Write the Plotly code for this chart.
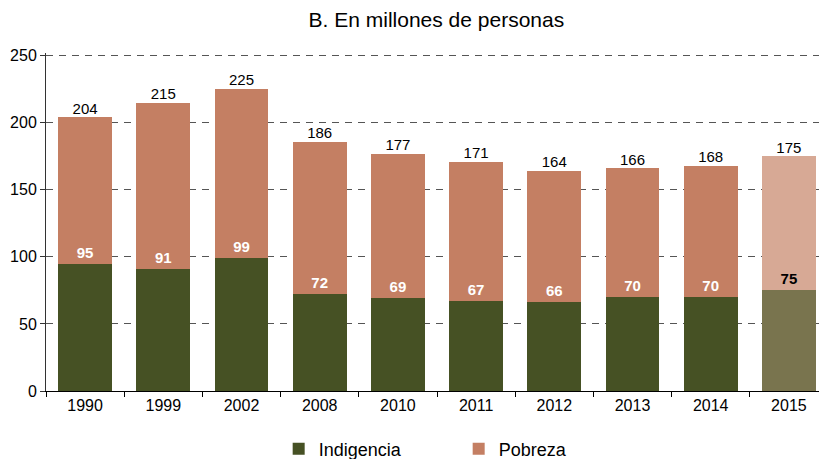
import plotly.graph_objects as go

years = ["1990", "1999", "2002", "2008", "2010", "2011", "2012", "2013", "2014", "2015"]
pobreza_total = [204, 215, 225, 186, 177, 171, 164, 166, 168, 175]
indigencia = [95, 91, 99, 72, 69, 67, 66, 70, 70, 75]

pob_only = [t - i for t, i in zip(pobreza_total, indigencia)]

ind_colors = ["#465124"] * 9 + ["#79744E"]
pob_colors = ["#C47F63"] * 9 + ["#D7A995"]
ind_label_colors = ["white"] * 9 + ["black"]

FONT = "Liberation Sans, Arial, sans-serif"
YMAX = 252

fig = go.Figure()
fig.add_trace(go.Bar(
    x=years, y=indigencia, name="Indigencia",
    marker=dict(color=ind_colors, line=dict(width=0)),
    width=0.69, hoverinfo="skip",
))
fig.add_trace(go.Bar(
    x=years, y=pob_only, name="Pobreza",
    marker=dict(color=pob_colors, line=dict(width=0)),
    width=0.69, hoverinfo="skip",
    text=[f"<b>{v}</b>" for v in indigencia],
    textposition="inside", insidetextanchor="start",
    textfont=dict(color=ind_label_colors, size=15, family=FONT),
    textangle=0,
))
fig.add_trace(go.Scatter(
    x=years, y=pobreza_total, mode="text",
    text=[str(v) for v in pobreza_total], textposition="top center",
    textfont=dict(size=15, color="black", family=FONT),
    showlegend=False, hoverinfo="skip", cliponaxis=False,
))

fig.update_layout(
    width=819, height=459,
    barmode="stack",
    plot_bgcolor="white", paper_bgcolor="white",
    margin=dict(l=46, r=0, t=53, b=68),
    font=dict(family=FONT, size=15, color="black"),
    title=dict(text="B. En millones de personas", x=0.505, xref="paper",
               y=1 - 20 / 459, yref="container", yanchor="middle",
               font=dict(size=21, family=FONT, color="black")),
    showlegend=True,
    legend=dict(orientation="h", x=0.301, xanchor="left", xref="paper",
                y=10 / 459, yref="container", yanchor="middle",
                entrywidth=135, entrywidthmode="pixels",
                font=dict(size=18, family=FONT), traceorder="normal",
                itemwidth=30),
    uniformtext=dict(minsize=8, mode="show"),
    yaxis2=dict(overlaying="y", side="left", anchor="x", range=[0, YMAX],
                tickvals=[0, 50, 100, 150, 200, 250], ticks="inside", ticklen=5,
                tickcolor="#333333", showticklabels=False, showgrid=False,
                zeroline=False, showline=False, automargin=False),
)
fig.update_xaxes(
    type="category", range=[-0.5, 9.385], automargin=False,
    showline=True, linecolor="black", linewidth=1,
    ticks="outside", tickson="boundaries", ticklen=5, tickcolor="black",
    showgrid=False, tickfont=dict(size=16),
)
fig.layout.yaxis.update(
    range=[0, YMAX], tickvals=[0, 50, 100, 150, 200, 250], automargin=False,
    showline=True, linecolor="#333333", linewidth=1,
    ticks="outside", ticklen=5, tickcolor="#333333",
    showgrid=True, gridcolor="#555555", griddash="7px,6px", gridwidth=1,
    zeroline=False, tickfont=dict(size=16),
)

fig.write_html("out.html", config={"displayModeBar": False},
               post_script="document.body.style.margin='0';document.body.style.overflow='hidden';")
